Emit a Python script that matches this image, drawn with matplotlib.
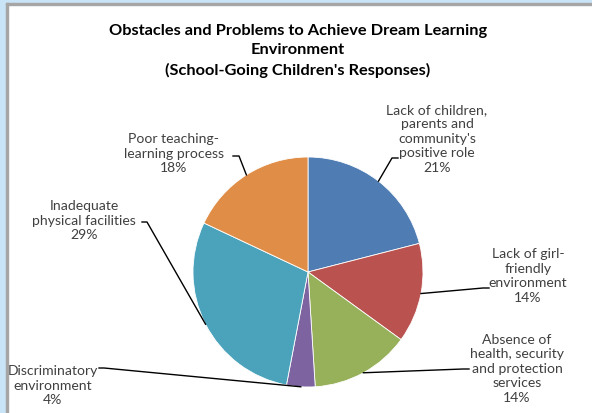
import matplotlib.pyplot as plt
from matplotlib.patches import Rectangle
import numpy as np

plt.rcParams['font.family'] = ['Lato', 'DejaVu Sans']

labels = ["Lack of children,\nparents and\ncommunity's\npositive role",
          "Lack of girl-\nfriendly\nenvironment",
          "Absence of\nhealth, security\nand protection\nservices",
          "Discriminatory\nenvironment",
          "Inadequate\nphysical facilities",
          "Poor teaching-\nlearning process"]
values = [21, 14, 14, 4, 29, 18]
colors = ['#4F7DB3', '#BA5250', '#97B05A', '#7D63A0', '#4AA3BB', '#E08E47']

W, H = 592, 414
cx, cy, R = 308, 273, 115   # pie centre and radius in pixels

fig = plt.figure(figsize=(W / 100, H / 100), dpi=100)
fig.patch.set_facecolor('white')

# window frame on the left and top
fig.add_artist(Rectangle((0, 0), 6 / W, 1, transform=fig.transFigure, color='#C8E4F6', zorder=0))
fig.add_artist(Rectangle((0, 1 - 4 / H), 1, 4 / H, transform=fig.transFigure, color='#C8E4F6', zorder=0))
fig.add_artist(Rectangle((6 / W, 0), 1.5 / W, 1 - 4 / H, transform=fig.transFigure, color='#A6A6A6', zorder=1))
fig.add_artist(Rectangle((6 / W, 1 - 5.5 / H), 1, 1.5 / H, transform=fig.transFigure, color='#A6A6A6', zorder=1))

ax = fig.add_axes([(cx - R) / W, (H - cy - R) / H, 2 * R / W, 2 * R / H])
wedges, _ = ax.pie(values, colors=colors, startangle=90, counterclock=False,
                   wedgeprops=dict(edgecolor='white', linewidth=0.6))
ax.set_xlim(-1, 1)
ax.set_ylim(-1, 1)
ax.axis('off')


def px(x, y):
    return (x - cx) / R, (cy - y) / R


# label centres and leader elbows, in pixels
text_pos = [(437, 139), (528, 276), (517, 369), (53, 386), (84, 221), (174, 154)]
elbows = [[(392, 159), (398, 159)],
          [(483, 289), (489, 289)],
          [(463, 370), (469, 370)],
          [(104, 369), (99, 369)],
          [(147, 223), (142, 223)],
          [(239, 157), (233, 157)]]

for w, lab, v, tp, el in zip(wedges, labels, values, text_pos, elbows):
    mid = np.deg2rad((w.theta1 + w.theta2) / 2)
    pts = [(np.cos(mid), np.sin(mid))] + [px(*p) for p in el]
    xs, ys = zip(*pts)
    ax.plot(xs, ys, color='black', lw=1.0, clip_on=False)
    tx, ty = px(*tp)
    ax.text(tx, ty, f"{lab}\n{v}%", ha='center', va='center', fontsize=10.1,
            color='#404040', linespacing=1.25, clip_on=False)

fig.text(298 / W, 1 - 51 / H,
         "Obstacles and Problems to Achieve Dream Learning\nEnvironment\n(School-Going Children's Responses)",
         ha='center', va='center', fontsize=11.8, fontweight='bold', color='black', linespacing=1.45)

fig.savefig('out.png', dpi=100)
